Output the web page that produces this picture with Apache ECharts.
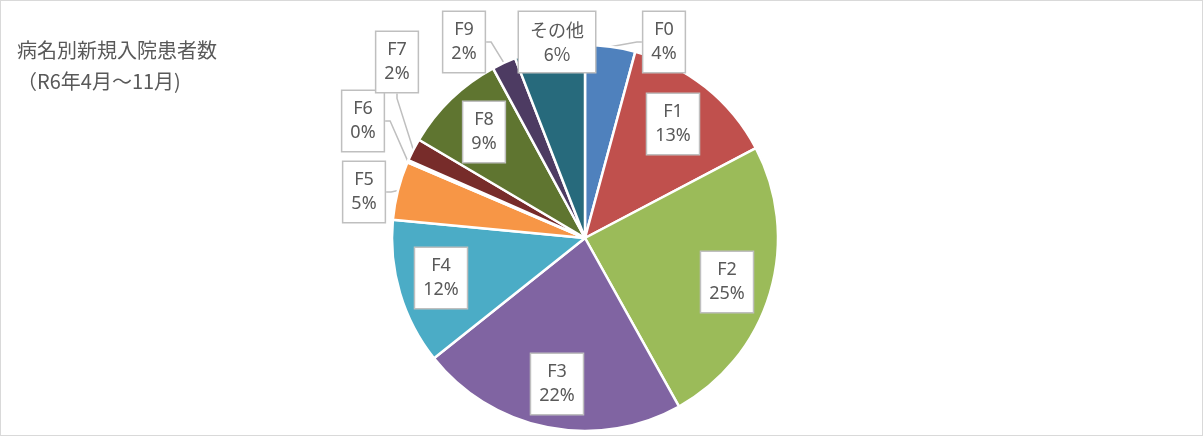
<!DOCTYPE html>
<html>
<head>
<meta charset="utf-8">
<script src="https://cdn.jsdelivr.net/npm/echarts@6/dist/echarts.min.js"></script>
<style>
  html, body { margin: 0; padding: 0; background: #fff; }
  #main { width: 1203px; height: 436px; box-sizing: border-box; border: 1px solid #d9d9d9; }
</style>
</head>
<body>
<div id="main"></div>
<script>
// 病名別の割合（%）
var categories = ["F0", "F1", "F2", "F3", "F4", "F5", "F6", "F7", "F8", "F9", "その他"];
var values = [4.2, 13.1, 24.6, 22.4, 12.2, 4.9, 0.2, 1.9, 8.6, 2.0, 5.9];
var colors = ["#4F81BD", "#C0504D", "#9BBB59", "#8064A2", "#4BACC6", "#F79646",
  "#2C4D75", "#772C2A", "#5F7530", "#4D3B62", "#276A7C"];

// ラベルの位置（吹き出しの中心）
var labelPos = [[663, 41], [672, 123], [726, 281], [556, 383], [440, 277], [363, 191],
  [362, 120], [396, 61], [483, 131], [463, 41], [556, 41]];

var myChart = echarts.init(document.getElementById("main"));

var pieData = categories.map(function (name, i) {
  var item = { name: name, value: values[i], itemStyle: { color: colors[i] } };
  if (name === "その他") {
    item.label = { fontSize: 18, padding: [6, 11], fontFamily: "Noto Sans CJK JP" };
    item.labelLine = { show: false };
  }
  return item;
});

myChart.setOption({
  backgroundColor: "#fff",
  animation: false,
  title: {
    left: 11,
    top: 29,
    text: "病名別新規入院患者数\n（R6年4月～11月)",
    textStyle: {
      color: "#595959",
      fontSize: 20,
      fontWeight: "normal",
      lineHeight: 31,
      fontFamily: "Noto Sans CJK JP"
    }
  },
  series: [
    {
      type: "pie",
      center: [584, 237],
      radius: 193,
      startAngle: 90,
      clockwise: true,
      avoidLabelOverlap: false,
      itemStyle: {
        borderColor: "#fff",
        borderWidth: 2.5
      },
      label: {
        show: true,
        position: "outside",
        formatter: function (p) {
          return p.name + "\n" + Math.round(p.percent) + "%";
        },
        color: "#595959",
        fontSize: 18,
        lineHeight: 24,
        fontFamily: "Noto Sans",
        backgroundColor: "#fff",
        borderColor: "#BFBFBF",
        borderWidth: 1.5,
        padding: [6, 8],
        align: "center"
      },
      labelLine: {
        show: true,
        length: 5,
        length2: 5,
        lineStyle: { color: "#BFBFBF", width: 1.5 }
      },
      labelLayout: function (params) {
        var p = labelPos[params.dataIndex];
        return { x: p[0], y: p[1], align: "center", verticalAlign: "middle" };
      },
      emphasis: { disabled: true },
      data: pieData
    }
  ]
});
</script>
</body>
</html>
